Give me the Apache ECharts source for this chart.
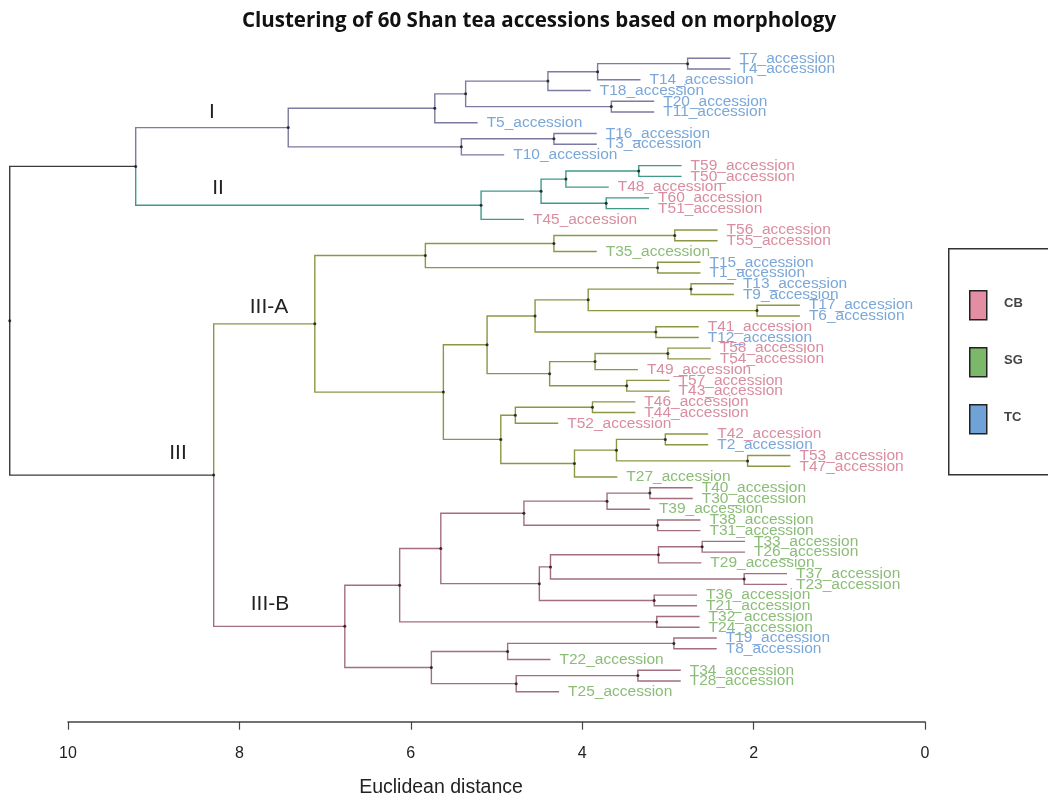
<!DOCTYPE html>
<html>
<head>
<meta charset="utf-8">
<script src="https://cdn.jsdelivr.net/npm/echarts@6/dist/echarts.min.js"></script>
<style>
  html, body { margin: 0; padding: 0; background: #fff; }
  #chart { width: 1048px; height: 800px; }
</style>
</head>
<body>
<div id="chart"></div>
<script>
// leaf order, top to bottom
var leafNames = ['T7','T4','T14','T18','T20','T11','T5','T16','T3','T10',
  'T59','T50','T48','T60','T51','T45',
  'T56','T55','T35','T15','T1','T13','T9','T17','T6','T41','T12','T58','T54','T49',
  'T57','T43','T46','T44','T52','T42','T2','T53','T47','T27',
  'T40','T30','T39','T38','T31','T33','T26','T29','T37','T23','T36','T21','T32','T24',
  'T19','T8','T22','T34','T28','T25'];

// merges: [node, left, right, height (Euclidean distance)]
var merges = [
  ['a1', 'T7', 'T4', 2.77], ['a2', 'a1', 'T14', 3.82], ['a3', 'a2', 'T18', 4.40],
  ['a4', 'T20', 'T11', 3.66], ['a5', 'a3', 'a4', 5.36], ['a6', 'a5', 'T5', 5.72],
  ['a7', 'T16', 'T3', 4.33], ['a8', 'a7', 'T10', 5.41], ['cI', 'a6', 'a8', 7.43],
  ['b1', 'T59', 'T50', 3.34], ['b2', 'b1', 'T48', 4.19], ['b3', 'T60', 'T51', 3.72],
  ['b4', 'b2', 'b3', 4.48], ['cII', 'b4', 'T45', 5.18],
  ['cI_II', 'cI', 'cII', 9.21],
  ['c1', 'T56', 'T55', 2.92], ['c2', 'c1', 'T35', 4.33], ['c3', 'T15', 'T1', 3.12],
  ['c4', 'c2', 'c3', 5.83], ['c5', 'T13', 'T9', 2.73], ['c6', 'T17', 'T6', 1.96],
  ['c7', 'c5', 'c6', 3.93], ['c8', 'T41', 'T12', 3.14], ['c9', 'c7', 'c8', 4.55],
  ['c10', 'T58', 'T54', 3.00], ['c11', 'c10', 'T49', 3.85], ['c12', 'T57', 'T43', 3.48],
  ['c13', 'c11', 'c12', 4.38], ['c14', 'c9', 'c13', 5.11], ['c15', 'T46', 'T44', 3.88],
  ['c16', 'c15', 'T52', 4.78], ['c17', 'T42', 'T2', 3.03], ['c18', 'T53', 'T47', 2.07],
  ['c19', 'c17', 'c18', 3.60], ['c20', 'c19', 'T27', 4.09], ['c21', 'c16', 'c20', 4.95],
  ['c22', 'c14', 'c21', 5.62], ['cIIIA', 'c4', 'c22', 7.12],
  ['d1', 'T40', 'T30', 3.21], ['d2', 'd1', 'T39', 3.71], ['d3', 'T38', 'T31', 3.12],
  ['d4', 'd2', 'd3', 4.68], ['d5', 'T33', 'T26', 2.60], ['d6', 'd5', 'T29', 3.11],
  ['d7', 'T37', 'T23', 2.11], ['d8', 'd6', 'd7', 4.37], ['d9', 'T36', 'T21', 3.16],
  ['d10', 'd8', 'd9', 4.50], ['d11', 'd4', 'd10', 5.65], ['d12', 'T32', 'T24', 3.13],
  ['d13', 'd11', 'd12', 6.13], ['d14', 'T19', 'T8', 2.93], ['d15', 'd14', 'T22', 4.87],
  ['d16', 'T34', 'T28', 3.35], ['d17', 'd16', 'T25', 4.77], ['d18', 'd15', 'd17', 5.76],
  ['cIIIB', 'd13', 'd18', 6.77],
  ['cIII', 'cIIIA', 'cIIIB', 8.30],
  ['root', 'cI_II', 'cIII', 10.68]
];
var hang = 0.5;

var clusterNodes = ['cI', 'cII', 'cIIIA', 'cIIIB'];
var clusterColors = ['#7b7ba3', '#3f9a8a', '#8c9744', '#a36f80'];
var rootColor = '#3a3a3a';

var groupNames = ['CB', 'SG', 'TC'];
var groupColors = ['#e38ea3', '#7cb869', '#6fa3d8'];
var labelColors = ['#d98da0', '#8bbd78', '#7ba7d8'];

// --- build tree geometry ---
var pos = {}, height = {}, children = {}, parentH = {};
leafNames.forEach(function (n, i) { pos[n] = i + 1; });
merges.forEach(function (m) {
  pos[m[0]] = (pos[m[1]] + pos[m[2]]) / 2;
  height[m[0]] = m[3];
  children[m[0]] = [m[1], m[2]];
  parentH[m[1]] = m[3];
  parentH[m[2]] = m[3];
});
leafNames.forEach(function (n) { height[n] = parentH[n] - hang; });

var colorOf = {};
function paint(node, c) {
  colorOf[node] = c;
  if (children[node]) children[node].forEach(function (k) { paint(k, c); });
}
merges.forEach(function (m) { colorOf[m[0]] = rootColor; });
clusterNodes.forEach(function (n, i) { paint(n, clusterColors[i]); });

var edges = [], edgeColors = [];
merges.forEach(function (m) {
  [m[1], m[2]].forEach(function (k) {
    edges.push([m[3], pos[m[0]], pos[k], height[k]]);
    edgeColors.push(colorOf[k]);
  });
});
var nodeDots = merges.map(function (m) { return [m[3], pos[m[0]]]; });

function groupOf(name) {
  var n = +name.slice(1);
  return n <= 20 ? 2 : (n <= 40 ? 1 : 0);
}
var leafData = leafNames.map(function (n) { return [height[n], pos[n]]; });

var chart = echarts.init(document.getElementById('chart'));
var font = '"Liberation Sans", Arial, sans-serif';

var legendItems = [];
groupNames.forEach(function (g, i) {
  legendItems.push({
    type: 'rect', left: 969, top: 290 + i * 57,
    shape: { width: 17, height: 29 },
    style: { fill: groupColors[i], stroke: '#222', lineWidth: 1.5 }
  });
  legendItems.push({
    type: 'text', left: 1004, top: 297 + i * 57,
    style: { text: g, font: 'bold 13px ' + font, fill: '#444' }
  });
});

function label(text, x, y, size) {
  return { type: 'text', x: x, y: y, style: { text: text, font: size + 'px ' + font, fill: '#222', textAlign: 'center', textVerticalAlign: 'middle' } };
}

var option = {
  backgroundColor: '#fff',
  animation: false,
  title: {
    text: 'Clustering of 60 Shan tea accessions based on morphology',
    left: 534, top: 6, textAlign: 'center',
    textStyle: { fontFamily: '"Open Sans", sans-serif', fontWeight: 'bold', fontSize: 20.5, color: '#111' }
  },
  grid: { left: 68, right: 123, top: 58.3, bottom: 108.3 },
  xAxis: {
    type: 'value', min: 0, max: 10, interval: 2, inverse: true,
    offset: 30,
    axisLine: { lineStyle: { color: '#444', width: 1.5 } },
    axisTick: { length: 8, lineStyle: { color: '#444', width: 1.2 } },
    axisLabel: { margin: 24, fontSize: 16, color: '#222', fontFamily: font },
    splitLine: { show: false }
  },
  yAxis: { type: 'value', min: 1, max: 60, inverse: true, show: false },
  graphic: [
    label('Euclidean distance', 441, 788, 19.5),
    label('I', 212, 112, 21),
    label('II', 218, 188, 21),
    label('III-A', 269, 307, 21),
    label('III', 178, 453, 21),
    label('III-B', 270, 604, 21),
    { type: 'rect', left: 948, top: 248, shape: { width: 120, height: 226 }, style: { fill: '#fff', stroke: '#333', lineWidth: 1.5 } }
  ].concat(legendItems),
  series: [
    {
      type: 'custom',
      clip: false,
      data: edges,
      renderItem: function (params, api) {
        var p0 = api.coord([api.value(0), api.value(1)]);
        var p1 = api.coord([api.value(0), api.value(2)]);
        var p2 = api.coord([api.value(3), api.value(2)]);
        return {
          type: 'polyline',
          shape: { points: [p0, p1, p2] },
          style: { stroke: edgeColors[params.dataIndex], lineWidth: 1.4, fill: null }
        };
      }
    },
    {
      type: 'custom',
      clip: false,
      data: leafData,
      renderItem: function (params, api) {
        var p = api.coord([api.value(0), api.value(1)]);
        var name = leafNames[params.dataIndex];
        return {
          type: 'text',
          x: p[0] + 9, y: p[1],
          style: {
            text: name + '_accession',
            font: '15.5px ' + font,
            fill: labelColors[groupOf(name)],
            textVerticalAlign: 'middle'
          }
        };
      }
    },
    {
      type: 'scatter',
      clip: false,
      data: nodeDots,
      symbolSize: 3,
      itemStyle: { color: '#111' },
      z: 5
    }
  ]
};
chart.setOption(option);
</script>
</body>
</html>
